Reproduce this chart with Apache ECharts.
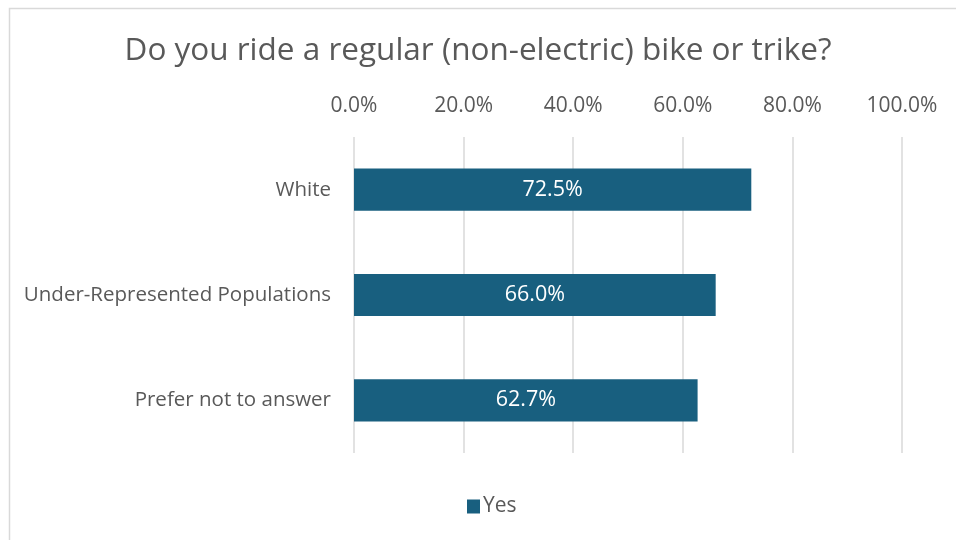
<!DOCTYPE html>
<html>
<head>
<meta charset="utf-8">
<script src="https://cdn.jsdelivr.net/npm/echarts@6/dist/echarts.min.js"></script>
<style>
  html, body { margin: 0; padding: 0; background: #ffffff; }
  #chart { width: 956px; height: 540px; }
</style>
</head>
<body>
<div id="chart"></div>
<script>
// Survey responses: share answering "Yes" per group
const categories = ['White', 'Under-Represented Populations', 'Prefer not to answer'];
const seriesName = 'Yes';
const yesShare = [0.725, 0.660, 0.627];
const axisTicks = [0, 0.2, 0.4, 0.6, 0.8, 1.0];

const textColor = '#595959';
const barColor = '#185F7F';
const fontFamily = '"Open Sans", "Noto Sans", sans-serif';

const chart = echarts.init(document.getElementById('chart'));
chart.setOption({
  animation: false,
  textStyle: { fontFamily: fontFamily },
  title: {
    text: 'Do you ride a regular (non-electric) bike or trike?',
    left: 'center',
    top: 30,
    textStyle: { color: textColor, fontSize: 31.5, fontWeight: 'normal', fontFamily: fontFamily }
  },
  graphic: [{
    type: 'rect',
    left: 7, top: 6,
    shape: { width: 960, height: 560 },
    style: { fill: 'none', stroke: '#d9d9d9', lineWidth: 1.5 },
    silent: true
  }],
  legend: {
    data: [seriesName],
    bottom: 18,
    left: 462,
    icon: 'rect',
    itemWidth: 13,
    itemHeight: 14,
    itemGap: 6,
    textStyle: { color: textColor, fontSize: 21, padding: [0, 0, 0, -2] }
  },
  grid: { left: 354, right: 54, top: 137, bottom: 87, containLabel: false },
  xAxis: {
    type: 'value',
    position: 'top',
    min: axisTicks[0],
    max: axisTicks[axisTicks.length - 1],
    interval: axisTicks[1] - axisTicks[0],
    axisLine: { show: false },
    axisTick: { show: false },
    axisLabel: {
      color: textColor, fontSize: 21, margin: 20,
      formatter: v => (v * 100).toFixed(1) + '%'
    },
    splitLine: { show: true, lineStyle: { color: '#d9d9d9', width: 1.5 } }
  },
  yAxis: {
    type: 'category',
    data: categories,
    inverse: true,
    axisLine: { show: false },
    axisTick: { show: false },
    axisLabel: { color: textColor, fontSize: 20.5, margin: 23 }
  },
  series: [{
    name: seriesName,
    type: 'bar',
    data: yesShare,
    barWidth: '40%',
    itemStyle: { color: barColor },
    label: {
      show: true,
      position: 'inside',
      color: '#ffffff',
      fontSize: 21.5,
      formatter: p => (p.value * 100).toFixed(1) + '%'
    }
  }]
});
</script>
</body>
</html>
